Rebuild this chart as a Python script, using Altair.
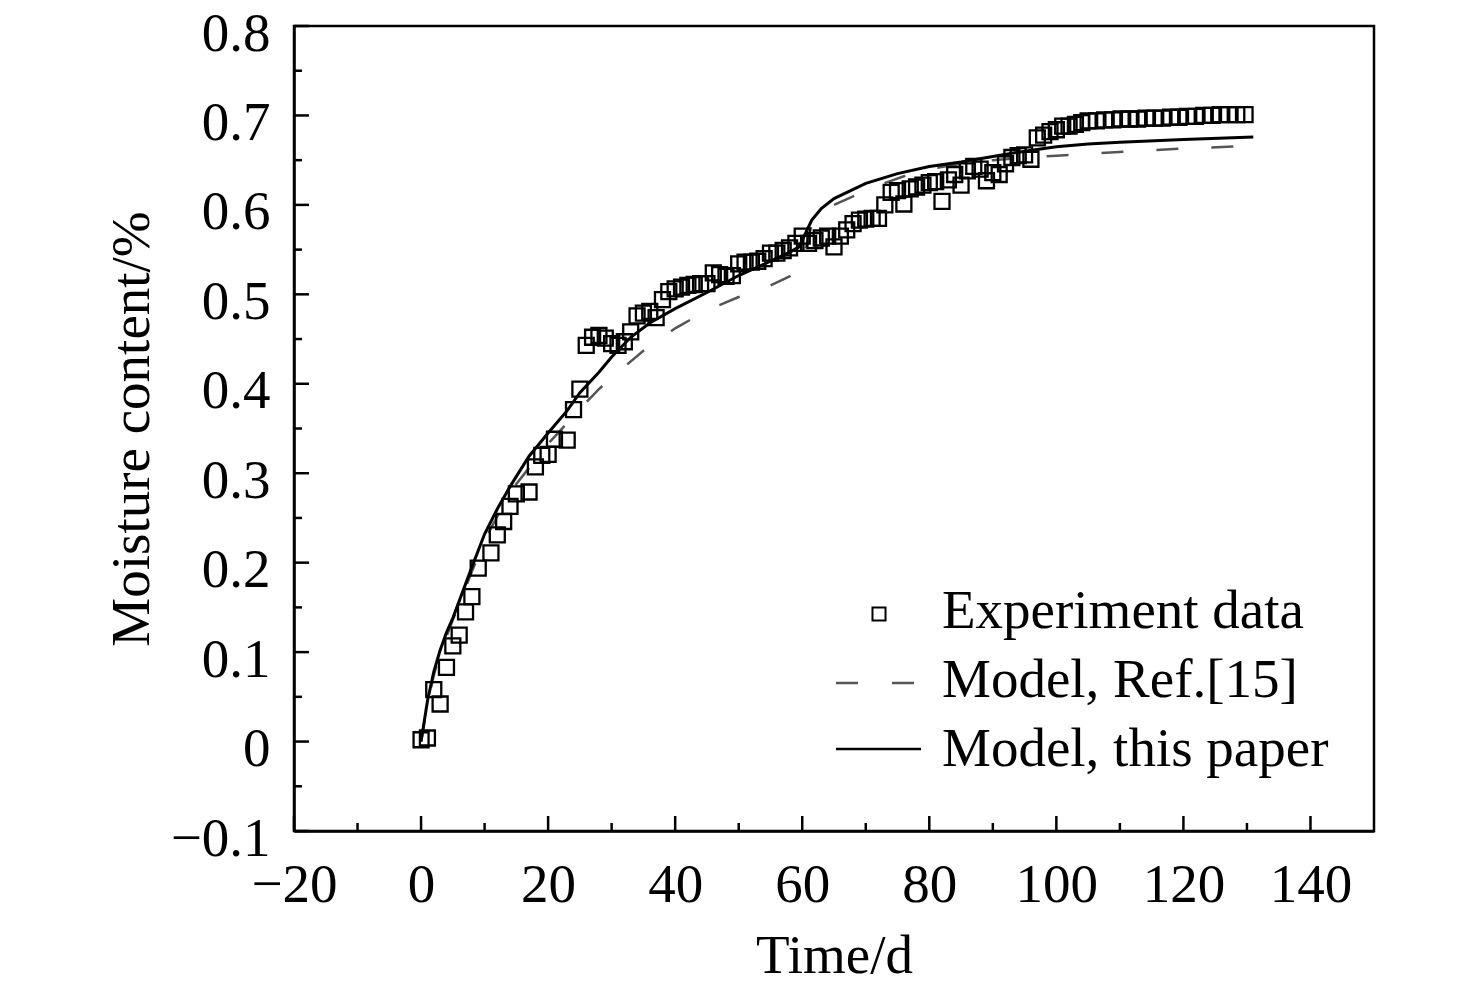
import altair as alt
import pandas as pd

FONT = "Liberation Serif"

# ---------------- data ----------------
exp_t = [0, 1, 2, 3, 4, 5, 6, 7, 8, 9, 11, 12, 13, 14, 15, 17, 18, 19, 20, 21,
         23, 24, 25, 26, 27, 28, 29, 30, 31, 32, 33, 34, 35, 36, 37, 38, 39, 40,
         41, 42, 43, 44, 45, 46, 47, 48, 49, 50, 51, 52, 53, 54, 55, 56, 57, 58,
         59, 60, 61, 62, 63, 64, 65, 66, 67, 68, 69, 70, 71, 72, 73, 74, 75, 76,
         77, 78, 79, 80, 81, 82, 83, 84, 85, 86, 87, 88, 89, 90, 91, 92, 93, 94,
         95, 96, 97, 98, 99, 100, 101, 102, 103, 104,
         105, 106.3, 107.6, 108.9, 110.2, 111.5, 112.8, 114.1, 115.4, 116.7,
         118, 119.3, 120.6, 121.9, 123.2, 124.5, 125.8, 127.1, 128.4, 129.7]
exp_m = [0.002, 0.004, 0.058, 0.042, 0.083, 0.107, 0.119, 0.145, 0.162, 0.194,
         0.211, 0.231, 0.246, 0.263, 0.277, 0.279, 0.307, 0.320, 0.321, 0.338,
         0.337, 0.371, 0.394, 0.443, 0.452, 0.454, 0.451, 0.445, 0.443, 0.447,
         0.458, 0.476, 0.479, 0.481, 0.474, 0.494, 0.503, 0.506, 0.508, 0.510,
         0.511, 0.512, 0.512, 0.524, 0.522, 0.520, 0.521, 0.534, 0.536, 0.536,
         0.537, 0.540, 0.546, 0.546, 0.549, 0.552, 0.557, 0.565, 0.557, 0.560,
         0.563, 0.565, 0.553, 0.565, 0.572, 0.579, 0.583, 0.584, 0.585, 0.585,
         0.600, 0.614, 0.616, 0.601, 0.618, 0.620, 0.622, 0.625, 0.626, 0.604,
         0.628, 0.634, 0.622, 0.638, 0.643, 0.640, 0.627, 0.636, 0.634, 0.646,
         0.653, 0.655, 0.656, 0.651, 0.675, 0.678, 0.682, 0.684, 0.688, 0.688,
         0.690, 0.692,
         0.694, 0.694, 0.695, 0.695, 0.696, 0.696, 0.696, 0.697, 0.697, 0.697,
         0.698, 0.698, 0.699, 0.699, 0.700, 0.700, 0.701, 0.701, 0.701, 0.701]

ref_t = [0, 1, 2, 3, 5, 8, 10, 13, 15, 18, 20, 23, 25, 28, 30, 35, 40, 45, 50,
         55, 58, 59.5, 60.5, 61.5, 63, 65, 68.5, 72, 76, 80, 85, 90, 95, 100,
         105, 112, 120, 131]
ref_m = [0.0, 0.042, 0.074, 0.099, 0.136, 0.190, 0.225, 0.265, 0.288, 0.315,
         0.333, 0.356, 0.372, 0.394, 0.407, 0.437, 0.462, 0.482, 0.497, 0.510,
         0.520, 0.527, 0.550, 0.578, 0.592, 0.600, 0.611, 0.622, 0.632, 0.640,
         0.646, 0.650, 0.653, 0.655, 0.657, 0.660, 0.663, 0.666]

our_t = [0, 1, 2, 3, 4, 5, 6, 8, 10, 12, 14, 17, 20, 23, 25, 28, 30, 33, 36,
         40, 45, 50, 55, 58, 59.5, 60.5, 61.5, 63, 65, 70, 75, 80, 85, 90, 95,
         100, 105, 110, 120, 131]
our_m = [0.0, 0.045, 0.078, 0.102, 0.122, 0.138, 0.157, 0.195, 0.232, 0.260,
         0.285, 0.319, 0.345, 0.370, 0.390, 0.413, 0.430, 0.452, 0.468, 0.484,
         0.502, 0.521, 0.537, 0.547, 0.553, 0.568, 0.583, 0.596, 0.607, 0.624,
         0.635, 0.643, 0.648, 0.654, 0.660, 0.665, 0.668, 0.670, 0.673, 0.676]

legend_labels = ["Experiment data", "Model, Ref.[15]", "Model, this paper"]

x_major = [-20, 0, 20, 40, 60, 80, 100, 120, 140]
x_minor = [-10, 10, 30, 50, 70, 90, 110, 130]
y_major = [-0.1, 0.0, 0.1, 0.2, 0.3, 0.4, 0.5, 0.6, 0.7, 0.8]
y_minor = [-0.05, 0.05, 0.15, 0.25, 0.35, 0.45, 0.55, 0.65, 0.75]

# ---------------- chart ----------------
W, H = 1080, 805
FS = 55

xs = alt.Scale(domain=[-20, 150], nice=False, zero=False)
ys = alt.Scale(domain=[-0.1, 0.8], nice=False, zero=False)

x_axis = alt.Axis(values=x_major, title="Time/d", ticks=False, tickSize=0,
                  grid=False, domainColor="black", domainWidth=2.5,
                  labelFont=FONT, labelFontSize=FS, labelColor="black",
                  labelBaseline="alphabetic", labelPadding=70,
                  labelFlush=False, labelOverlap=False, format="d",
                  titleFont=FONT, titleFontSize=FS, titleFontWeight="normal",
                  titleColor="black", titleX=W / 2, titleY=141,
                  titleBaseline="alphabetic", titleAlign="center")
y_axis = alt.Axis(values=y_major, title="Moisture content/%", ticks=False,
                  tickSize=0, grid=False, domainColor="black", domainWidth=2.5,
                  labelFont=FONT, labelFontSize=FS, labelColor="black",
                  labelBaseline="alphabetic", labelOffset=24, labelPadding=24,
                  labelAlign="right", labelFlush=False, labelOverlap=False,
                  labelExpr="datum.value == 0 ? '0' : format(datum.value, '.1f')",
                  titleFont=FONT, titleFontSize=FS, titleFontWeight="normal",
                  titleColor="black", titleAngle=-90, titleX=-146, titleY=H / 2,
                  titleBaseline="alphabetic", titleAlign="center")

exp_df = pd.DataFrame({"t": exp_t, "m": exp_m})
ref_df = pd.DataFrame({"t": ref_t, "m": ref_m})
our_df = pd.DataFrame({"t": our_t, "m": our_m})

X = alt.X("t:Q", scale=xs, axis=x_axis)
Y = alt.Y("m:Q", scale=ys, axis=y_axis)

ref_line = alt.Chart(ref_df).mark_line(
    color="#555555", strokeWidth=2.5, strokeDash=[22, 33]
).encode(x=X, y=Y)

our_line = alt.Chart(our_df).mark_line(
    color="black", strokeWidth=3
).encode(x=X, y=Y)

points = alt.Chart(exp_df).mark_point(
    shape="square", filled=False, size=225, strokeWidth=2.3,
    color="black", opacity=1
).encode(x=X, y=Y)

# inward tick marks
xt_major = alt.Chart(pd.DataFrame({"t": x_major})).mark_rule(
    color="black", strokeWidth=2.5
).encode(x=X, y=alt.value(H), y2=alt.value(H - 15))
xt_minor = alt.Chart(pd.DataFrame({"t": x_minor})).mark_rule(
    color="black", strokeWidth=2.5
).encode(x=X, y=alt.value(H), y2=alt.value(H - 8))
yt_major = alt.Chart(pd.DataFrame({"m": y_major})).mark_rule(
    color="black", strokeWidth=2.5
).encode(y=Y, x=alt.value(0), x2=alt.value(15))
yt_minor = alt.Chart(pd.DataFrame({"m": y_minor})).mark_rule(
    color="black", strokeWidth=2.5
).encode(y=Y, x=alt.value(0), x2=alt.value(8))

# legend
one = pd.DataFrame({"k": [0]})
leg_sq = alt.Chart(one).mark_point(
    shape="square", filled=False, size=170, strokeWidth=2, color="black", opacity=1
).encode(x=alt.value(585), y=alt.value(588))
leg_dash = alt.Chart(one).mark_rule(
    color="#555555", strokeWidth=2.5, strokeDash=[22, 34]
).encode(x=alt.value(542), x2=alt.value(626), y=alt.value(657))
leg_solid = alt.Chart(one).mark_rule(
    color="black", strokeWidth=2.5
).encode(x=alt.value(542), x2=alt.value(627), y=alt.value(723))

leg_text = []
for lab, yy in zip(legend_labels, [602, 671, 740]):
    leg_text.append(
        alt.Chart(pd.DataFrame({"label": [lab]})).mark_text(
            font=FONT, fontSize=FS, color="black", align="left",
            baseline="alphabetic"
        ).encode(x=alt.value(648), y=alt.value(yy), text="label:N")
    )

chart = alt.layer(
    ref_line, our_line, points,
    xt_major, xt_minor, yt_major, yt_minor,
    leg_sq, leg_dash, leg_solid, *leg_text
).properties(
    width=W, height=H,
    autosize=alt.AutoSizeParams(type="none"),
    padding={"left": 286, "top": 18, "right": 94, "bottom": 158},
    background="white",
).configure_view(stroke="black", strokeWidth=2.5)

chart.save("out.html", embed_options={"renderer": "svg", "actions": False})
